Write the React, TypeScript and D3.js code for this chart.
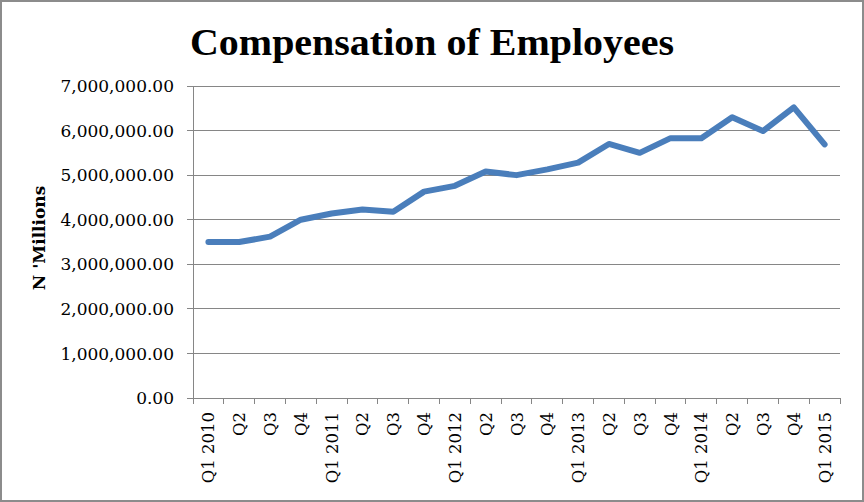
import React from "react";
import * as d3 from "d3";

const categories = [
  "Q1 2010", "Q2", "Q3", "Q4",
  "Q1 2011", "Q2", "Q3", "Q4",
  "Q1 2012", "Q2", "Q3", "Q4",
  "Q1 2013", "Q2", "Q3", "Q4",
  "Q1 2014", "Q2", "Q3", "Q4",
  "Q1 2015",
];
const values = [
  3500000, 3500000, 3620000, 4000000,
  4140000, 4230000, 4180000, 4630000,
  4760000, 5080000, 5000000, 5130000,
  5280000, 5700000, 5500000, 5830000,
  5830000, 6300000, 5990000, 6520000,
  5690000,
];
const yTicks = [0, 1000000, 2000000, 3000000, 4000000, 5000000, 6000000, 7000000];
const title = "Compensation of Employees";
const yTitle = "N 'Millions";

const W = 864;
const H = 502;
const left = 193;
const right = 840;
const top = 86;
const bottom = 398;

export default function App() {
  const x = d3.scaleBand<number>().domain(d3.range(categories.length)).range([left, right]);
  const y = d3.scaleLinear().domain([0, 7000000]).range([bottom, top]);
  const fmt = d3.format(",.2f");
  const line = d3
    .line<number>()
    .x((_, i) => (x(i) as number) + x.bandwidth() / 2)
    .y((d) => y(d));
  const serif = "'Liberation Serif', 'DejaVu Serif', serif";
  const dserif = "'DejaVu Serif', 'Liberation Serif', serif";
  const grid = "#868686";
  return (
    <svg width={W} height={H} style={{ position: "absolute", left: 0, top: 0, background: "#fff" }}>
      <rect x={1} y={1} width={W - 2} height={H - 2} fill="#fff" stroke="#8c8c8c" strokeWidth={2} />
      <text
        x={432}
        y={55}
        textAnchor="middle"
        fontFamily={serif}
        fontWeight="bold"
        fontSize={38}
        textLength={484}
        lengthAdjust="spacingAndGlyphs"
      >
        {title}
      </text>
      {yTicks.map((t) => (
        <g key={t}>
          <line x1={left} x2={right} y1={y(t)} y2={y(t)} stroke={grid} strokeWidth={1} shapeRendering="crispEdges" />
          <line x1={left - 6} x2={left} y1={y(t)} y2={y(t)} stroke={grid} strokeWidth={1} shapeRendering="crispEdges" />
          <text x={174} y={y(t)} dy="0.36em" textAnchor="end" fontFamily={dserif} fontSize={17}>
            {fmt(t)}
          </text>
        </g>
      ))}
      <line x1={left} x2={left} y1={top} y2={bottom} stroke={grid} strokeWidth={1} shapeRendering="crispEdges" />
      {d3.range(categories.length + 1).map((i) => {
        const xx = i < categories.length ? (x(i) as number) : right;
        return (
          <line key={"t" + i} x1={xx} x2={xx} y1={bottom} y2={bottom + 6} stroke={grid} strokeWidth={1} shapeRendering="crispEdges" />
        );
      })}
      {categories.map((c, i) => {
        const cx = (x(i) as number) + x.bandwidth() / 2 + 6;
        return (
          <text
            key={"c" + i}
            transform={`translate(${cx},${bottom + 14}) rotate(-90)`}
            textAnchor="end"
            fontFamily={dserif}
            fontSize={16.5}
          >
            {c}
          </text>
        );
      })}
      <text
        transform={`translate(45,238) rotate(-90)`}
        textAnchor="middle"
        fontFamily={dserif}
        fontWeight="bold"
        fontSize={17}
      >
        {yTitle}
      </text>
      <path
        d={line(values) || ""}
        fill="none"
        stroke="#4A7EBB"
        strokeWidth={6}
        strokeLinejoin="round"
        strokeLinecap="round"
      />
    </svg>
  );
}
